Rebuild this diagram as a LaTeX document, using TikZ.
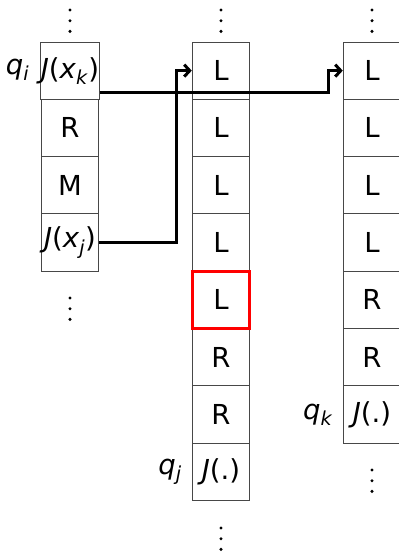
\documentclass[tikz,border=0pt]{standalone}
\usepackage{fontspec}
\setmainfont{DejaVu Sans}
\usetikzlibrary{arrows.meta}
\tikzset{
  cell/.style={draw=black!72, line width=1pt, minimum width=57.5pt, minimum height=57.3pt, inner sep=0pt, font=\fontsize{27.5}{32}\selectfont},
  redcell/.style={cell, draw=red, line width=2.7pt},
  lbl/.style={inner sep=0pt, font=\fontsize{27.5}{32}\selectfont},
  conn/.style={line width=3pt, black, -{Straight Barb[length=5.5pt,width=12pt]}},
  dotmark/.style={fill=black, draw=none},
}
\newcommand{\itx}[1]{\textit{#1}}
\begin{document}
\begin{tikzpicture}[x=1pt,y=-1pt]
\useasboundingbox (0,0) rectangle (399,552);
% column 1
\node[cell] (a1) at (70,70.65) {\itx{J}(\itx{x}\textsubscript{\itx{k}})};
\node[cell] (a2) at (70,127.95) {R};
\node[cell] (a3) at (70,185.25) {M};
\node[cell] (a4) at (70,242.55) {\itx{J}(\itx{x}\textsubscript{\itx{j}})};
% column 2
\node[cell] (b1) at (221,70.65) {L};
\node[cell] (b2) at (221,127.95) {L};
\node[cell] (b3) at (221,185.25) {L};
\node[cell] (b4) at (221,242.55) {L};
\node[cell] (b6) at (221,357.15) {R};
\node[cell] (b7) at (221,414.45) {R};
\node[cell] (b8) at (221,471.75) {\itx{J}(.)};
\node[redcell] (b5) at (221,299.85) {L};
% column 3
\node[cell] (c1) at (372,70.65) {L};
\node[cell] (c2) at (372,127.95) {L};
\node[cell] (c3) at (372,185.25) {L};
\node[cell] (c4) at (372,242.55) {L};
\node[cell] (c5) at (372,299.85) {R};
\node[cell] (c6) at (372,357.15) {R};
\node[cell] (c7) at (372,414.45) {\itx{J}(.)};
% labels
\node[lbl] (qi) at (17.5,70) {\itx{q}\textsubscript{\itx{i}}};
\node[lbl] (qj) at (170,472) {\itx{q}\textsubscript{\itx{j}}};
\node[lbl] (qk) at (318,415) {\itx{q}\textsubscript{\itx{k}}};
% vertical dots
\foreach \x/\y in {70/10, 221/10, 372/10, 70/298, 372/470, 221/528}{
  \fill[dotmark] (\x,\y) circle (1.7);
  \fill[dotmark] (\x,\y+10.7) circle (1.7);
  \fill[dotmark] (\x,\y+21.4) circle (1.7);
}
% connectors
\draw[conn] (a4.east) -- ++(77.7,0) |- (b1.west);
\draw[conn] ([yshift=-21.5pt]a1.east) -- ++(228.7,0) |- (c1.west);
\end{tikzpicture}
\end{document}
